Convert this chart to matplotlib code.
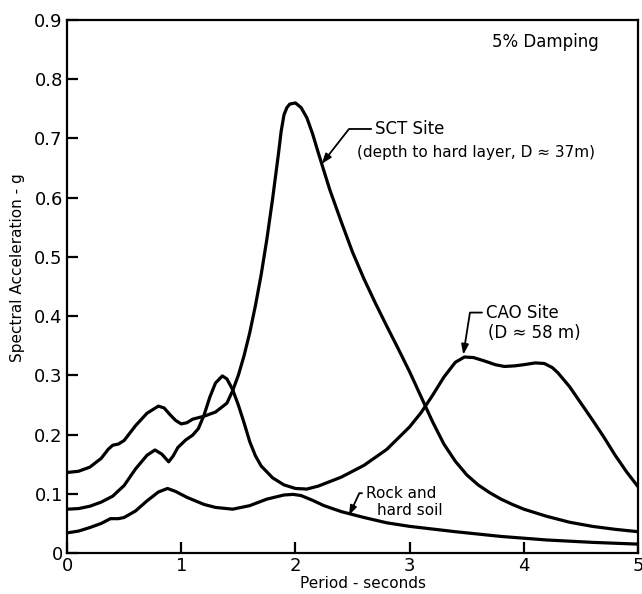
import numpy as np
import matplotlib
matplotlib.use("Agg")
import matplotlib.pyplot as plt

# SCT site (soft clay, D ~ 37 m)
sct_t = [0.0, 0.1, 0.2, 0.3, 0.36, 0.4, 0.45, 0.5, 0.6, 0.7, 0.8, 0.85, 0.9, 0.95,
         1.0, 1.05, 1.1, 1.2, 1.3, 1.4, 1.45, 1.5, 1.55, 1.6, 1.65, 1.7, 1.75, 1.8,
         1.85, 1.875, 1.9, 1.925, 1.95, 2.0, 2.05, 2.1, 2.15, 2.2, 2.25, 2.3, 2.4,
         2.5, 2.6, 2.7, 2.8, 2.9, 3.0, 3.1, 3.2, 3.3, 3.4, 3.5, 3.6, 3.7, 3.8, 3.9,
         4.0, 4.2, 4.4, 4.6, 4.8, 5.0]
sct_sa = [0.136, 0.138, 0.145, 0.160, 0.175, 0.182, 0.184, 0.190, 0.215, 0.236, 0.248,
          0.245, 0.234, 0.224, 0.218, 0.220, 0.226, 0.231, 0.238, 0.253, 0.274, 0.300,
          0.333, 0.372, 0.418, 0.470, 0.530, 0.598, 0.672, 0.712, 0.740, 0.752, 0.758,
          0.760, 0.752, 0.735, 0.708, 0.676, 0.645, 0.614, 0.560, 0.508, 0.463, 0.422,
          0.383, 0.345, 0.306, 0.264, 0.222, 0.184, 0.155, 0.132, 0.115, 0.102, 0.091,
          0.082, 0.074, 0.062, 0.052, 0.045, 0.040, 0.036]

# CAO site (D ~ 58 m)
cao_t = [0.0, 0.1, 0.2, 0.3, 0.4, 0.5, 0.6, 0.7, 0.77, 0.83, 0.89, 0.93, 0.97, 1.04,
         1.1, 1.15, 1.2, 1.25, 1.3, 1.36, 1.4, 1.45, 1.5, 1.55, 1.6, 1.65, 1.7, 1.8,
         1.9, 2.0, 2.1, 2.2, 2.4, 2.6, 2.8, 3.0, 3.1, 3.2, 3.3, 3.4, 3.48, 3.56, 3.66,
         3.75, 3.83, 3.92, 4.0, 4.1, 4.18, 4.25, 4.3, 4.4, 4.5, 4.6, 4.7, 4.8, 4.9, 5.0]
cao_sa = [0.074, 0.075, 0.079, 0.086, 0.096, 0.114, 0.142, 0.165, 0.174, 0.167, 0.154,
          0.164, 0.178, 0.191, 0.199, 0.210, 0.233, 0.263, 0.287, 0.299, 0.294, 0.276,
          0.250, 0.220, 0.188, 0.164, 0.147, 0.127, 0.115, 0.109, 0.108, 0.113, 0.128,
          0.148, 0.175, 0.213, 0.237, 0.266, 0.297, 0.322, 0.331, 0.330, 0.324, 0.318,
          0.315, 0.316, 0.318, 0.321, 0.320, 0.313, 0.304, 0.281, 0.253, 0.225, 0.196,
          0.165, 0.137, 0.112]

# rock and hard soil
rock_t = [0.0, 0.1, 0.2, 0.3, 0.38, 0.45, 0.5, 0.6, 0.7, 0.8, 0.88, 0.95, 1.05, 1.2,
          1.3, 1.45, 1.6, 1.75, 1.9, 1.98, 2.05, 2.15, 2.25, 2.4, 2.6, 2.8, 3.0, 3.4,
          3.8, 4.2, 4.6, 5.0]
rock_sa = [0.034, 0.037, 0.043, 0.050, 0.058, 0.058, 0.060, 0.071, 0.088, 0.103, 0.109,
           0.104, 0.094, 0.082, 0.077, 0.074, 0.080, 0.091, 0.098, 0.099, 0.097, 0.089,
           0.080, 0.070, 0.060, 0.051, 0.045, 0.036, 0.028, 0.022, 0.018, 0.015]

xticks = [0, 1, 2, 3, 4, 5]
yticks = [0, 0.1, 0.2, 0.3, 0.4, 0.5, 0.6, 0.7, 0.8, 0.9]
ylabels = ["0", "0.1", "0.2", "0.3", "0.4", "0.5", "0.6", "0.7", "0.8", "0.9"]

fig = plt.figure(figsize=(6.42, 5.94), dpi=100)
ax = fig.add_axes([0.1044, 0.069, 0.8894, 0.8973])

for t, sa in [(sct_t, sct_sa), (cao_t, cao_sa), (rock_t, rock_sa)]:
    ax.plot(t, sa, color="black", lw=2.3, solid_capstyle="round",
            solid_joinstyle="round")

ax.set_xlim(0, 5)
ax.set_ylim(0, 0.9)
ax.set_xticks(xticks)
ax.set_xticklabels([str(v) for v in xticks])
ax.set_yticks(yticks)
ax.set_yticklabels(ylabels)
ax.tick_params(direction="in", length=8, width=1.6, labelsize=13, pad=3)
for s in ax.spines.values():
    s.set_linewidth(1.6)

ax.set_xlabel("Period - seconds", fontsize=11)
ax.set_ylabel("Spectral Acceleration - g", fontsize=11)
ax.xaxis.set_label_coords(0.519, -0.044)
ax.yaxis.set_label_coords(-0.074, 0.536)

ax.text(4.19, 0.863, "5% Damping", fontsize=12, ha="center", va="center")

arrow = dict(arrowstyle="-|>,head_length=0.5,head_width=0.18", color="black",
             lw=1.3, relpos=(0, 0.5), shrinkA=1, shrinkB=0)

ax.annotate("SCT Site", xy=(2.23, 0.657), xytext=(2.70, 0.716), fontsize=12,
            ha="left", va="center",
            arrowprops=dict(arrow, connectionstyle="angle,angleA=0,angleB=52,rad=0"))
ax.text(2.54, 0.677, "(depth to hard layer, D \u2248 37m)", fontsize=11,
        ha="left", va="center")

ax.annotate("CAO Site", xy=(3.47, 0.335), xytext=(3.67, 0.406), fontsize=12,
            ha="left", va="center",
            arrowprops=dict(arrow, connectionstyle="angle,angleA=0,angleB=81,rad=0"))
ax.text(3.69, 0.372, "(D \u2248 58 m)", fontsize=12, ha="left", va="center")

ax.annotate("Rock and", xy=(2.47, 0.064), xytext=(2.62, 0.101), fontsize=11,
            ha="left", va="center",
            arrowprops=dict(arrow, connectionstyle="angle,angleA=0,angleB=65,rad=0"))
ax.text(2.71, 0.071, "hard soil", fontsize=11, ha="left", va="center")

fig.savefig("out.png", dpi=100)
